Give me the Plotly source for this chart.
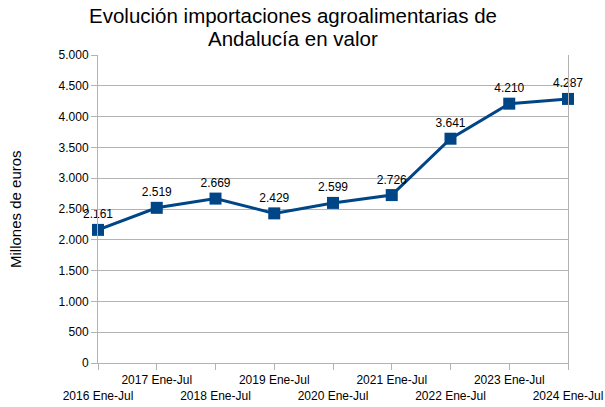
import plotly.graph_objects as go

categories = ["2016 Ene-Jul", "2017 Ene-Jul", "2018 Ene-Jul", "2019 Ene-Jul", "2020 Ene-Jul",
              "2021 Ene-Jul", "2022 Ene-Jul", "2023 Ene-Jul", "2024 Ene-Jul"]
values = [2161, 2519, 2669, 2429, 2599, 2726, 3641, 4210, 4287]
y_ticks = list(range(0, 5001, 500))
title_lines = ["Evolución importaciones agroalimentarias de", "Andalucía en valor"]
y_title = "Millones de euros"

tick_text = [c if i % 2 == 1 else "<br>" + c for i, c in enumerate(categories)]

color = "#004586"
grid = "#b3b3b3"
font = "Liberation Sans, Arial, sans-serif"

W, H = 605, 407
L, R, T, B = 98, 37, 55, 44
ph = H - T - B
pw = W - L - R

def py(pix):
    return (H - B - pix) / ph

def px(pix):
    return (pix - L) / pw

fig = go.Figure()
fig.add_trace(go.Scatter(
    x=categories, y=values,
    mode="lines+markers+text",
    line=dict(color=color, width=3),
    marker=dict(symbol="square", size=12, color=color),
    texttemplate="%{y:,.0f}",
    textposition="top center",
    textfont=dict(family=font, size=12, color="#000000"),
    cliponaxis=False,
    showlegend=False,
))

annotations = [
    dict(text=title_lines[0], x=px(293), y=py(16), xref="paper", yref="paper",
         xanchor="center", yanchor="middle", showarrow=False,
         font=dict(family=font, size=20.5, color="#000000")),
    dict(text=title_lines[1], x=px(293), y=py(39), xref="paper", yref="paper",
         xanchor="center", yanchor="middle", showarrow=False,
         font=dict(family=font, size=20.5, color="#000000")),
    dict(text=y_title, x=px(15), y=0.5, xref="paper", yref="paper",
         xanchor="center", yanchor="middle", showarrow=False, textangle=-90,
         font=dict(family=font, size=15, color="#000000")),
]

fig.update_layout(
    width=W, height=H,
    margin=dict(l=L, r=R, t=T, b=B, autoexpand=False),
    paper_bgcolor="white", plot_bgcolor="white",
    separators=",.",
    font=dict(family=font, size=12, color="#000000"),
    annotations=annotations,
    xaxis=dict(
        type="category", range=[0, 8], automargin=False,
        tickmode="array", tickvals=categories, ticktext=tick_text,
        showgrid=False, showline=True, linecolor=grid, linewidth=1,
        ticks="outside", ticklen=6, tickcolor=grid,
        tickfont=dict(family=font, size=12), tickangle=0,
    ),
    yaxis=dict(
        range=[0, 5000], tickvals=y_ticks, tickformat=",d", automargin=False,
        showgrid=True, gridcolor=grid, gridwidth=1,
        showline=True, linecolor=grid, linewidth=1, mirror=True,
        ticks="outside", ticklen=6, tickcolor=grid,
        zeroline=False,
        tickfont=dict(family=font, size=12),
    ),
)

fig.write_html("out.html", config={"displayModeBar": False},
               post_script="document.body.style.margin='0';")
